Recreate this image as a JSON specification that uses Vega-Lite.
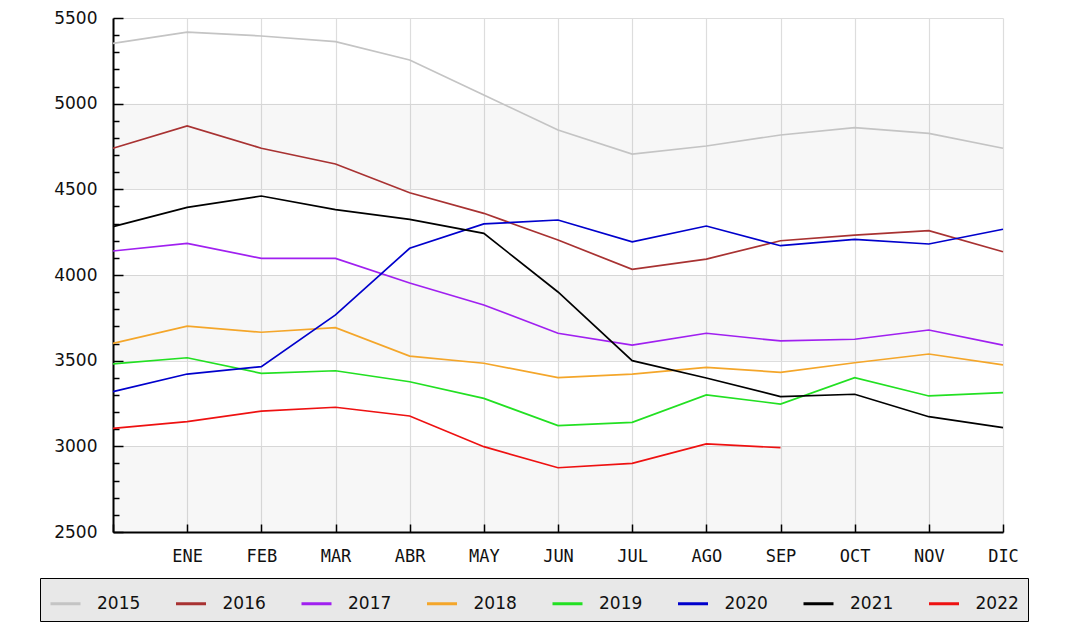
{
  "$schema": "https://vega.github.io/schema/vega-lite/v6.json",
  "width": 890,
  "height": 514,
  "autosize": {"type": "none"},
  "padding": {"left": 113, "top": 18, "right": 73, "bottom": 103},
  "background": "white",
  "config": {
    "view": {"stroke": null}
  },
  "datasets": {
    "bands": [
      {"lo": 2500, "hi": 3000},
      {"lo": 3500, "hi": 4000},
      {"lo": 4500, "hi": 5000}
    ],
    "sales": [
      {"year": "2015", "m": 0, "v": 5352}, {"year": "2015", "m": 1, "v": 5417}, {"year": "2015", "m": 2, "v": 5395}, {"year": "2015", "m": 3, "v": 5362}, {"year": "2015", "m": 4, "v": 5255}, {"year": "2015", "m": 5, "v": 5051}, {"year": "2015", "m": 6, "v": 4846}, {"year": "2015", "m": 7, "v": 4706}, {"year": "2015", "m": 8, "v": 4753}, {"year": "2015", "m": 9, "v": 4817}, {"year": "2015", "m": 10, "v": 4860}, {"year": "2015", "m": 11, "v": 4827}, {"year": "2015", "m": 12, "v": 4740},
      {"year": "2016", "m": 0, "v": 4740}, {"year": "2016", "m": 1, "v": 4870}, {"year": "2016", "m": 2, "v": 4740}, {"year": "2016", "m": 3, "v": 4648}, {"year": "2016", "m": 4, "v": 4480}, {"year": "2016", "m": 5, "v": 4360}, {"year": "2016", "m": 6, "v": 4204}, {"year": "2016", "m": 7, "v": 4033}, {"year": "2016", "m": 8, "v": 4093}, {"year": "2016", "m": 9, "v": 4200}, {"year": "2016", "m": 10, "v": 4233}, {"year": "2016", "m": 11, "v": 4259}, {"year": "2016", "m": 12, "v": 4136},
      {"year": "2017", "m": 0, "v": 4140}, {"year": "2017", "m": 1, "v": 4185}, {"year": "2017", "m": 2, "v": 4097}, {"year": "2017", "m": 3, "v": 4097}, {"year": "2017", "m": 4, "v": 3953}, {"year": "2017", "m": 5, "v": 3825}, {"year": "2017", "m": 6, "v": 3660}, {"year": "2017", "m": 7, "v": 3591}, {"year": "2017", "m": 8, "v": 3660}, {"year": "2017", "m": 9, "v": 3615}, {"year": "2017", "m": 10, "v": 3625}, {"year": "2017", "m": 11, "v": 3679}, {"year": "2017", "m": 12, "v": 3591},
      {"year": "2018", "m": 0, "v": 3601}, {"year": "2018", "m": 1, "v": 3702}, {"year": "2018", "m": 2, "v": 3666}, {"year": "2018", "m": 3, "v": 3693}, {"year": "2018", "m": 4, "v": 3527}, {"year": "2018", "m": 5, "v": 3485}, {"year": "2018", "m": 6, "v": 3401}, {"year": "2018", "m": 7, "v": 3422}, {"year": "2018", "m": 8, "v": 3461}, {"year": "2018", "m": 9, "v": 3432}, {"year": "2018", "m": 10, "v": 3488}, {"year": "2018", "m": 11, "v": 3539}, {"year": "2018", "m": 12, "v": 3475},
      {"year": "2019", "m": 0, "v": 3481}, {"year": "2019", "m": 1, "v": 3517}, {"year": "2019", "m": 2, "v": 3426}, {"year": "2019", "m": 3, "v": 3441}, {"year": "2019", "m": 4, "v": 3377}, {"year": "2019", "m": 5, "v": 3280}, {"year": "2019", "m": 6, "v": 3121}, {"year": "2019", "m": 7, "v": 3140}, {"year": "2019", "m": 8, "v": 3300}, {"year": "2019", "m": 9, "v": 3247}, {"year": "2019", "m": 10, "v": 3401}, {"year": "2019", "m": 11, "v": 3294}, {"year": "2019", "m": 12, "v": 3313},
      {"year": "2020", "m": 0, "v": 3319}, {"year": "2020", "m": 1, "v": 3422}, {"year": "2020", "m": 2, "v": 3465}, {"year": "2020", "m": 3, "v": 3767}, {"year": "2020", "m": 4, "v": 4156}, {"year": "2020", "m": 5, "v": 4298}, {"year": "2020", "m": 6, "v": 4321}, {"year": "2020", "m": 7, "v": 4194}, {"year": "2020", "m": 8, "v": 4286}, {"year": "2020", "m": 9, "v": 4171}, {"year": "2020", "m": 10, "v": 4208}, {"year": "2020", "m": 11, "v": 4181}, {"year": "2020", "m": 12, "v": 4267},
      {"year": "2021", "m": 0, "v": 4282}, {"year": "2021", "m": 1, "v": 4395}, {"year": "2021", "m": 2, "v": 4461}, {"year": "2021", "m": 3, "v": 4382}, {"year": "2021", "m": 4, "v": 4325}, {"year": "2021", "m": 5, "v": 4243}, {"year": "2021", "m": 6, "v": 3901}, {"year": "2021", "m": 7, "v": 3500}, {"year": "2021", "m": 8, "v": 3399}, {"year": "2021", "m": 9, "v": 3290}, {"year": "2021", "m": 10, "v": 3304}, {"year": "2021", "m": 11, "v": 3173}, {"year": "2021", "m": 12, "v": 3109},
      {"year": "2022", "m": 0, "v": 3105}, {"year": "2022", "m": 1, "v": 3144}, {"year": "2022", "m": 2, "v": 3206}, {"year": "2022", "m": 3, "v": 3228}, {"year": "2022", "m": 4, "v": 3177}, {"year": "2022", "m": 5, "v": 2998}, {"year": "2022", "m": 6, "v": 2875}, {"year": "2022", "m": 7, "v": 2901}, {"year": "2022", "m": 8, "v": 3014}, {"year": "2022", "m": 9, "v": 2992}
    ]
  },
  "layer": [
    {
      "data": {"name": "bands"},
      "mark": {"type": "rect", "color": "#000000", "opacity": 0.03},
      "encoding": {
        "y": {
          "field": "lo", "type": "quantitative",
          "scale": {"domain": [2500, 5500], "nice": false, "zero": false},
          "axis": {
            "title": null,
            "values": [2500, 2600, 2700, 2800, 2900, 3000, 3100, 3200, 3300, 3400, 3500, 3600, 3700, 3800, 3900, 4000, 4100, 4200, 4300, 4400, 4500, 4600, 4700, 4800, 4900, 5000, 5100, 5200, 5300, 5400, 5500],
            "labelExpr": "datum.value % 500 === 0 ? datum.label : ''",
            "format": "d",
            "labelFont": "DejaVu Sans",
            "labelFontSize": 17,
            "labelColor": "#111111",
            "labelPadding": 26,
            "labelOverlap": false,
            "labelBound": false,
            "labelFlush": false,
            "tickColor": "#000000",
            "tickWidth": 1.5,
            "tickSize": {"condition": {"test": "datum.value % 500 === 0", "value": -10}, "value": -6},
            "domainColor": "#000000",
            "domainWidth": 2,
            "grid": true,
            "gridColor": "#dddddd",
            "gridWidth": 1.2,
            "gridOpacity": {"condition": {"test": "datum.value % 500 === 0", "value": 1}, "value": 0}
          }
        },
        "y2": {"field": "hi"}
      }
    },
    {
      "data": {"name": "sales"},
      "mark": {"type": "line", "strokeWidth": 1.7},
      "encoding": {
        "x": {
          "field": "m", "type": "quantitative",
          "scale": {"domain": [0, 12], "nice": false, "zero": false},
          "axis": {
            "title": null,
            "values": [0, 1, 2, 3, 4, 5, 6, 7, 8, 9, 10, 11, 12],
            "labelExpr": "['', 'ENE', 'FEB', 'MAR', 'ABR', 'MAY', 'JUN', 'JUL', 'AGO', 'SEP', 'OCT', 'NOV', 'DIC'][datum.value]",
            "labelFont": "DejaVu Sans Mono",
            "labelFontSize": 17,
            "labelColor": "#111111",
            "labelPadding": 24,
            "labelOverlap": false,
            "labelBound": false,
            "labelFlush": false,
            "tickSize": -8,
            "tickColor": "#000000",
            "tickWidth": 1.5,
            "domainColor": "#000000",
            "domainWidth": 2,
            "grid": true,
            "gridColor": "#dddddd",
            "gridWidth": 1.2
          }
        },
        "y": {
          "field": "v", "type": "quantitative",
          "scale": {"domain": [2500, 5500], "nice": false, "zero": false},
          "axis": {
            "title": null,
            "values": [2500, 2600, 2700, 2800, 2900, 3000, 3100, 3200, 3300, 3400, 3500, 3600, 3700, 3800, 3900, 4000, 4100, 4200, 4300, 4400, 4500, 4600, 4700, 4800, 4900, 5000, 5100, 5200, 5300, 5400, 5500],
            "labelExpr": "datum.value % 500 === 0 ? datum.label : ''",
            "format": "d",
            "labelFont": "DejaVu Sans",
            "labelFontSize": 17,
            "labelColor": "#111111",
            "labelPadding": 26,
            "labelOverlap": false,
            "labelBound": false,
            "labelFlush": false,
            "tickColor": "#000000",
            "tickWidth": 1.5,
            "tickSize": {"condition": {"test": "datum.value % 500 === 0", "value": -10}, "value": -6},
            "domainColor": "#000000",
            "domainWidth": 2,
            "grid": true,
            "gridColor": "#dddddd",
            "gridWidth": 1.2,
            "gridOpacity": {"condition": {"test": "datum.value % 500 === 0", "value": 1}, "value": 0}
          }
        },
        "color": {
          "field": "year", "type": "nominal",
          "scale": {
            "domain": ["2015", "2016", "2017", "2018", "2019", "2020", "2021", "2022"],
            "range": ["#c4c4c4", "#a83232", "#a020f0", "#f4a62a", "#22e022", "#0000cc", "#000000", "#ee1111"]
          },
          "legend": {
            "orient": "none",
            "legendX": -73,
            "legendY": 560,
            "direction": "horizontal",
            "columns": 8,
            "title": null,
            "symbolType": "stroke",
            "symbolSize": 900,
            "symbolStrokeWidth": 3,
            "labelFont": "DejaVu Sans",
            "labelFontSize": 17,
            "labelColor": "#111111",
            "labelOffset": 15,
            "columnPadding": 28.5,
            "padding": 9,
            "fillColor": "#e8e8e8",
            "strokeColor": "#000000"
          }
        }
      }
    }
  ]
}
